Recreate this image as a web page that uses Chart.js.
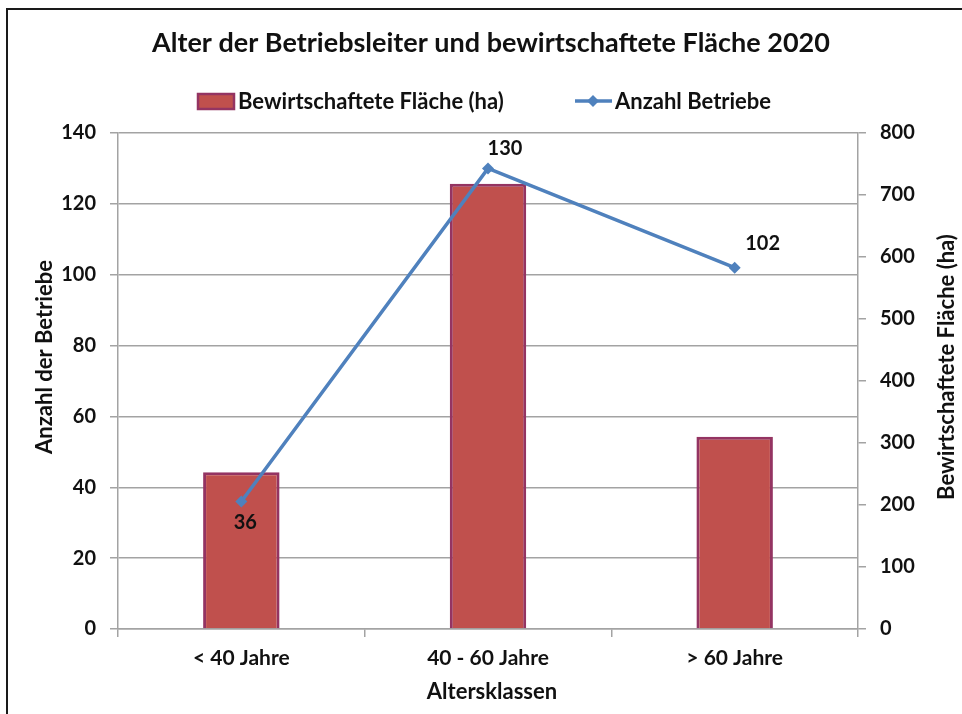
<!DOCTYPE html>
<html>
<head>
<meta charset="utf-8">
<script src="https://cdn.jsdelivr.net/npm/chart.js@4/dist/chart.umd.min.js"></script>
<style>
html,body{margin:0;padding:0;background:#ffffff;}
#wrap{width:962px;height:714px;position:relative;}
</style>
</head>
<body>
<div id="wrap"><canvas id="c" width="962" height="714"></canvas></div>
<script>
// ---- data ----
const categories = ['< 40 Jahre', '40 - 60 Jahre', '> 60 Jahre'];
const flaecheHa = [253, 718, 310];
const anzahlBetriebe = [36, 130, 102];
const seriesNames = ['Bewirtschaftete Fläche (ha)', 'Anzahl Betriebe'];
const chartTitle = 'Alter der Betriebsleiter und bewirtschaftete Fläche 2020';
const xAxisTitle = 'Altersklassen';
const yLeftTitle = 'Anzahl der Betriebe';
const yRightTitle = 'Bewirtschaftete Fläche (ha)';

// ---- styles ----
const FONT = 'Lato, "Open Sans", sans-serif';
const BAR_FILL = '#C0504D';
const BAR_BORDER = '#943462';
const LINE_COLOR = '#4F81BD';
const GRID = '#A3A3A3';
const TEXT = '#111111';

const overlay = {
  id: 'overlay',
  afterDraw(chart) {
    const ctx = chart.ctx;
    ctx.save();
    // frame
    ctx.strokeStyle = '#1a1a1a';
    ctx.lineWidth = 2;
    ctx.beginPath();
    ctx.moveTo(7, 714);
    ctx.lineTo(7, 9);
    ctx.lineTo(962, 9);
    ctx.stroke();

    ctx.fillStyle = TEXT;
    ctx.textBaseline = 'middle';
    // title
    ctx.font = 'bold 27px ' + FONT;
    ctx.textAlign = 'center';
    ctx.fillText(chartTitle, 491, 43);

    // legend
    ctx.font = 'bold 22px ' + FONT;
    ctx.textAlign = 'left';
    ctx.fillStyle = BAR_FILL;
    ctx.fillRect(198, 94, 36, 15);
    ctx.strokeStyle = BAR_BORDER;
    ctx.lineWidth = 2.5;
    ctx.strokeRect(198, 94, 36, 15);
    ctx.fillStyle = TEXT;
    ctx.fillText(seriesNames[0], 238, 102);

    ctx.strokeStyle = LINE_COLOR;
    ctx.lineWidth = 3.5;
    ctx.beginPath();
    ctx.moveTo(575, 101);
    ctx.lineTo(612, 101);
    ctx.stroke();
    ctx.fillStyle = LINE_COLOR;
    ctx.beginPath();
    ctx.moveTo(593, 95); ctx.lineTo(599, 101); ctx.lineTo(593, 107); ctx.lineTo(587, 101);
    ctx.closePath(); ctx.fill();
    ctx.fillStyle = TEXT;
    ctx.fillText(seriesNames[1], 615, 102);

    // axis titles
    ctx.font = 'bold 22px ' + FONT;
    ctx.textAlign = 'center';
    ctx.fillText(xAxisTitle, 492, 692);
    ctx.save();
    ctx.translate(45, 357);
    ctx.rotate(-Math.PI / 2);
    ctx.fillText(yLeftTitle, 0, 0);
    ctx.restore();
    ctx.save();
    ctx.translate(947, 367);
    ctx.rotate(-Math.PI / 2);
    ctx.fillText(yRightTitle, 0, 0);
    ctx.restore();

    // data labels for line
    const meta = chart.getDatasetMeta(1);
    const offs = [[4, 21], [17, -20], [28, -24]];
    ctx.font = 'bold 20px ' + FONT;
    meta.data.forEach((pt, i) => {
      ctx.fillText(String(anzahlBetriebe[i]), pt.x + offs[i][0], pt.y + offs[i][1]);
    });
    ctx.restore();
  }
};

new Chart(document.getElementById('c'), {
  data: {
    labels: categories,
    datasets: [
      {
        type: 'bar',
        label: seriesNames[0],
        data: flaecheHa,
        yAxisID: 'y2',
        backgroundColor: BAR_FILL,
        borderColor: BAR_BORDER,
        borderWidth: 3,
        barPercentage: 0.31,
        categoryPercentage: 1,
        order: 2
      },
      {
        type: 'line',
        label: seriesNames[1],
        data: anzahlBetriebe,
        yAxisID: 'y',
        borderColor: LINE_COLOR,
        backgroundColor: LINE_COLOR,
        borderWidth: 3.5,
        pointStyle: 'rectRot',
        pointRadius: 6,
        pointBorderWidth: 0,
        tension: 0,
        order: 1
      }
    ]
  },
  options: {
    responsive: false,
    animation: false,
    devicePixelRatio: 1,
    layout: { padding: { top: 133, left: 0, right: 0, bottom: 0 } },
    plugins: {
      legend: { display: false },
      title: { display: false },
      tooltip: { enabled: false }
    },
    scales: {
      x: {
        offset: true,
        grid: { offset: true, drawOnChartArea: false, color: GRID, lineWidth: 1.5, tickLength: 8 },
        border: { display: true, color: GRID, width: 1.5 },
        ticks: { color: TEXT, font: { family: FONT, size: 21, weight: 'bold' }, padding: 9, maxRotation: 0 },
        afterFit(s) { s.height = 85; }
      },
      y: {
        position: 'left',
        min: 0, max: 140,
        ticks: { stepSize: 20, color: TEXT, font: { family: FONT, size: 20, weight: 'bold' }, padding: 14 },
        grid: { color: GRID, lineWidth: 1.5, tickLength: 8 },
        border: { display: true, color: GRID, width: 1.5 },
        afterFit(s) { s.width = 118; }
      },
      y2: {
        position: 'right',
        min: 0, max: 800,
        ticks: { stepSize: 100, color: TEXT, font: { family: FONT, size: 20, weight: 'bold' }, padding: 14 },
        grid: { drawOnChartArea: false, color: GRID, lineWidth: 1.5, tickLength: 8 },
        border: { display: true, color: GRID, width: 1.5 },
        afterFit(s) { s.width = 104; }
      }
    }
  },
  plugins: [overlay]
});
</script>
</body>
</html>
